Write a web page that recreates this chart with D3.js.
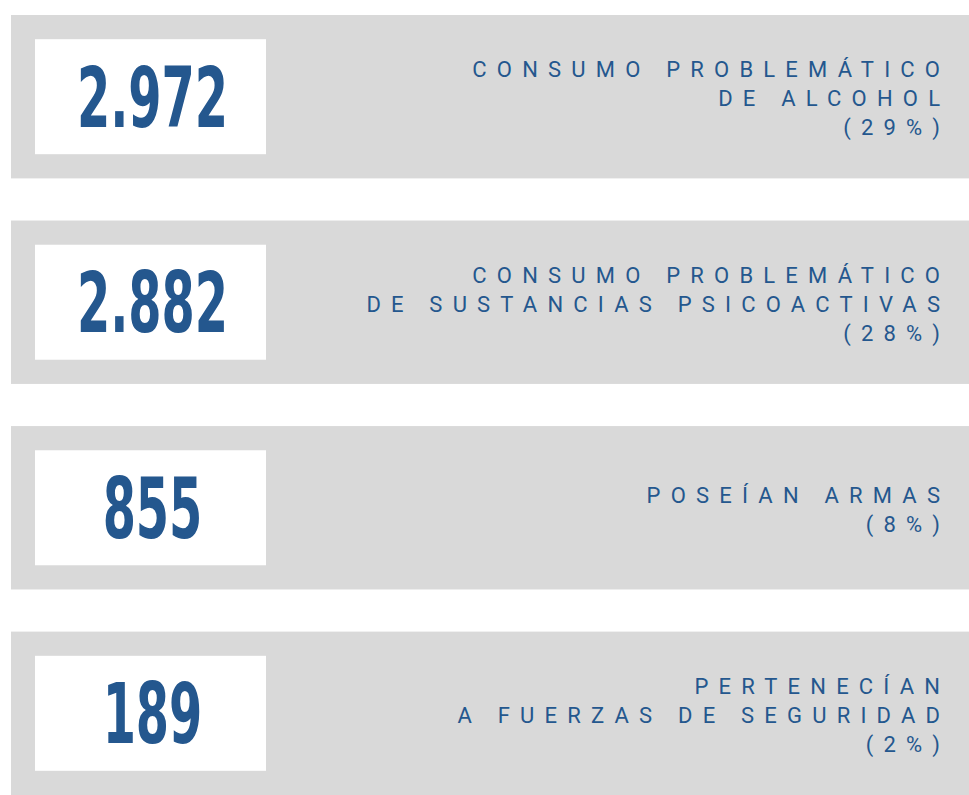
<!DOCTYPE html>
<html>
<head>
<meta charset="utf-8">
<script src="https://cdn.jsdelivr.net/npm/d3@7"></script>
<style>
  html, body { margin: 0; padding: 0; background: #fff; }
  svg { display: block; }
  .num { font-family: "Liberation Sans Narrow", "DejaVu Sans Condensed", sans-serif; font-weight: 700; fill: #24578e; }
  .lbl { font-family: Roboto, "Noto Sans", sans-serif; font-weight: 400; fill: #24578e; }
</style>
</head>
<body>
<div id="chart"></div>
<script>
// values shown in the white boxes
const counts = ["2.972", "2.882", "855", "189"];
// label lines (right aligned)
const labels = [
    ["CONSUMO PROBLEMÁTICO", "DE ALCOHOL"],
    ["CONSUMO PROBLEMÁTICO", "DE SUSTANCIAS PSICOACTIVAS"],
    ["POSEÍAN ARMAS"],
    ["PERTENECÍAN", "A FUERZAS DE SEGURIDAD"]
];
const percents = ["(29%)", "(28%)", "(8%)", "(2%)"];

const width = 969, height = 795;
const rows = counts.map((c, i) => ({ count: c, lines: labels[i].concat([percents[i]]) }));

const svg = d3.select("#chart").append("svg")
    .attr("width", width)
    .attr("height", height);

const y = d3.scaleBand()
    .domain(d3.range(rows.length))
    .range([15, 795])
    .paddingInner(0.205);

const panelLeft = 11;
const boxInset = 24, boxW = 231, boxH = 115;
const lineH = 29, spacing = 10.2, textRight = 940;

const g = svg.selectAll("g.row")
    .data(rows)
    .join("g")
    .attr("class", "row")
    .attr("transform", (d, i) => `translate(0,${y(i)})`);

// grey panel
g.append("rect")
    .attr("x", panelLeft)
    .attr("y", 0)
    .attr("width", width - panelLeft)
    .attr("height", y.bandwidth())
    .attr("fill", "#d9d9d9");

// white box
g.append("rect")
    .attr("x", panelLeft + boxInset)
    .attr("y", (y.bandwidth() - boxH) / 2)
    .attr("width", boxW)
    .attr("height", boxH)
    .attr("fill", "#fff");

// big number, condensed horizontally
const cx = panelLeft + boxInset + boxW / 2 + 2;
g.append("text")
    .attr("class", "num")
    .attr("text-anchor", "middle")
    .attr("font-size", 83)
    .attr("transform", `translate(${cx},${y.bandwidth() / 2 + 30}) scale(0.64,1)`)
    .text(d => d.count);

// labels
g.each(function(d) {
    const n = d.lines.length;
    const mid = y.bandwidth() / 2 + 9.5;
    const first = mid - (n - 1) / 2 * lineH;
    d3.select(this).selectAll("text.lbl")
        .data(d.lines)
        .join("text")
        .attr("class", "lbl")
        .attr("text-anchor", "end")
        .attr("font-size", 22)
        .attr("letter-spacing", spacing)
        .attr("x", textRight + spacing)
        .attr("y", (t, j) => first + j * lineH)
        .text(t => t);
});
</script>
</body>
</html>
